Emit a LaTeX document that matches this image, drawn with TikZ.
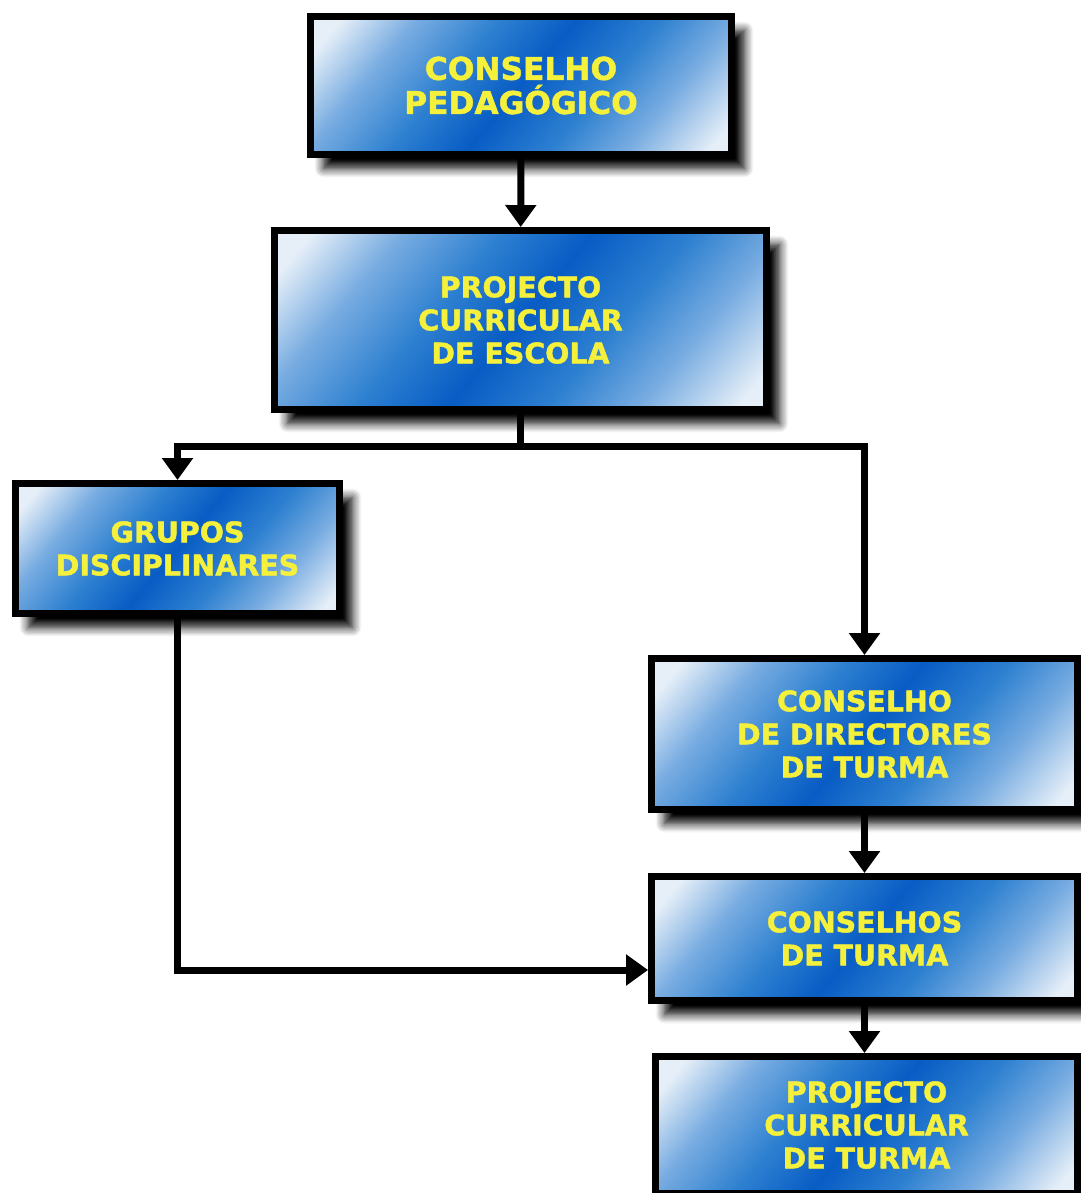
\documentclass[tikz,border=0pt]{standalone}
\usepackage{fontspec}
\setsansfont{DejaVu Sans}[BoldFeatures={FakeBold=1.5}]
\usetikzlibrary{arrows.meta,shadows.blur}

\definecolor{boxlight}{RGB}{230,239,248}
\definecolor{boxsky}{RGB}{120,172,225}
\definecolor{boxblue}{RGB}{45,128,208}
\definecolor{boxdark}{RGB}{8,92,196}
\definecolor{labelyellow}{RGB}{245,240,60}

\pgfdeclarehorizontalshading{boxshade}{100bp}{color(0bp)=(boxlight); color(19bp)=(boxlight); color(29bp)=(boxsky); color(40bp)=(boxblue); color(50bp)=(boxdark); color(61bp)=(boxblue); color(71bp)=(boxsky); color(82bp)=(boxlight); color(100bp)=(boxlight)}

\tikzset{
  orgbox/.style={draw=black, line width=0.14cm, shading=boxshade, shading angle=-40,
    text=labelyellow, align=center, inner sep=0pt,
    blur shadow={shadow xshift=0.26cm, shadow yshift=-0.28cm, shadow blur radius=0.18cm, shadow blur steps=8, shadow opacity=100}},
  link/.style={line width=0.14cm, -{Triangle[length=0.44cm,width=0.6cm]}},
}

\begin{document}
\begin{tikzpicture}[x=0.02cm,y=-0.02cm]
    \providecommand{\titlefontsize}{\fontsize{17.8}{19.4}\selectfont}
    \providecommand{\boxfontsize}{\fontsize{16.2}{18.8}\selectfont}
    \useasboundingbox (0,0) rectangle (1081,1193);
    \node[orgbox,font=\sffamily\bfseries\titlefontsize,minimum width=8.42cm,minimum height=2.76cm] (pedagogico) at (521,85.5) {CONSELHO\\PEDAGÓGICO};
    \node[orgbox,font=\sffamily\bfseries\boxfontsize,minimum width=9.84cm,minimum height=3.58cm] (escola) at (520.5,320) {PROJECTO\\CURRICULAR\\DE ESCOLA};
    \node[orgbox,font=\sffamily\bfseries\boxfontsize,minimum width=6.48cm,minimum height=2.6cm] (grupos) at (177.5,548.5) {GRUPOS\\DISCIPLINARES};
    \node[orgbox,font=\sffamily\bfseries\boxfontsize,minimum width=8.52cm,minimum height=3.02cm] (directores) at (864.5,734) {CONSELHO\\DE DIRECTORES\\DE TURMA};
    \node[orgbox,font=\sffamily\bfseries\boxfontsize,minimum width=8.52cm,minimum height=2.48cm] (conselhos) at (864.5,938.5) {CONSELHOS\\DE TURMA};
    \node[orgbox,font=\sffamily\bfseries\boxfontsize,minimum width=8.44cm,minimum height=2.74cm] (turma) at (866.5,1125) {PROJECTO\\CURRICULAR\\DE TURMA};
    % ligacoes
    \draw[link] (pedagogico) -- (escola);
    \draw[link] (escola.south) -- ++(0,34) -| (grupos.north);
    \draw[link] (escola.south) -- ++(0,34) -| (directores.north);
    \draw[link] (directores) -- (conselhos);
    \draw[link] (grupos.south) |- ([yshift=-0.63cm]conselhos.west);
    \draw[link] (conselhos.south) -- (conselhos.south|-turma.north);
\end{tikzpicture}
\end{document}
